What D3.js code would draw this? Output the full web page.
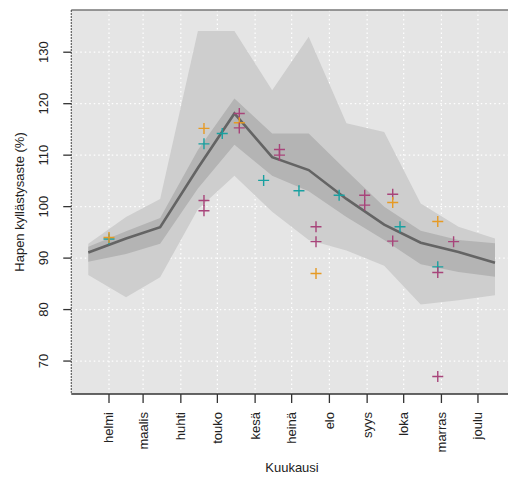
<!DOCTYPE html>
<html>
    <head>
        <script type="text/javascript" src="https://cdn.jsdelivr.net/npm/d3@7"></script>
        <style type="text/css">
            body { margin: 0; background: white; }
            text {
                font-family: "Liberation Sans", Arial, sans-serif;
                font-size: 13px;
                fill: #222;
            }
        </style>
    </head>
    <body>
        <script type="text/javascript">

            // month tick labels (1st of each month, Feb..Dec)
            var monthLabels = ["helmi","maalis","huhti","touko","kesä","heinä","elo","syys","loka","marras","joulu"];
            var yTicks = [70, 80, 90, 100, 110, 120, 130];

            // monthly statistics, placed at the 15th of each month
            var median   = [91.1, 93.8, 96.0, 107.5, 118.1, 109.6, 107.1, 101.5, 96.5, 93.0, 91.2, 89.1];
            var innerLow = [89.3, 90.8, 92.8, 103.5, 112.0, 106.0, 103.0, 98.0, 93.5, 88.8, 87.3, 86.4];
            var innerHigh= [92.2, 95.2, 97.8, 111.0, 121.0, 114.2, 114.2, 107.0, 100.0, 95.3, 93.5, 92.9];
            var outerLow = [86.7, 82.4, 86.3, 99.5, 106.0, 99.0, 93.5, 91.5, 88.5, 81.0, 81.8, 82.8];
            var outerHigh= [92.8, 98.0, 101.5, 134.1, 134.1, 122.6, 133.0, 116.2, 114.5, 100.6, 96.1, 93.8];

            // individual measurements
            var obsDates  = ["2019-02-01","2019-02-01","2019-04-20","2019-04-20","2019-04-20","2019-04-20","2019-05-05",
                             "2019-05-19","2019-05-19","2019-05-19","2019-06-08","2019-06-21","2019-06-21","2019-07-07",
                             "2019-07-21","2019-07-21","2019-07-21","2019-08-09","2019-08-30","2019-08-30","2019-09-22",
                             "2019-09-22","2019-09-22","2019-09-28","2019-10-29","2019-10-29","2019-10-29","2019-10-29",
                             "2019-11-11"];
            var obsValues = [93.7, 94.0, 115.2, 112.2, 101.2, 99.2, 114.2,
                             118.1, 116.3, 115.3, 105.1, 111.1, 110.0, 103.1,
                             96.1, 93.2, 87.0, 102.2, 102.2, 100.3, 102.4,
                             100.8, 93.3, 96.1, 97.1, 88.3, 87.2, 67.0,
                             93.2];
            var obsSite   = ["b","a","a","b","c","c","b",
                             "c","a","c","b","c","c","b",
                             "c","c","a","b","c","c","c",
                             "a","c","b","a","b","c","c",
                             "c"];

            var w = 508, h = 480;
            var pLeft = 71.25, pRight = 515.7, pTop = 10, pBottom = 394;

            var x = d3.scaleTime()
                      .domain([new Date(2019, 0, 1), new Date(2020, 0, 1)])
                      .range([pLeft, pRight]);
            var y = d3.scaleLinear()
                      .domain([63.6, 138.2])
                      .range([pBottom, pTop]);

            var siteColor = d3.scaleOrdinal()
                              .domain(["a","b","c"])
                              .range(["#e69a24", "#18a0a0", "#a8447a"]);

            var mid = d3.range(12).map(function(i){ return new Date(2019, i, 15); });
            var monthStarts = d3.range(1, 12).map(function(i){ return new Date(2019, i, 1); });

            var svg = d3.select("body")
                        .append("svg")
                        .attr("width", w)
                        .attr("height", h);

            // panel background
            svg.append("rect")
               .attr("x", pLeft).attr("y", pTop)
               .attr("width", pRight - pLeft).attr("height", pBottom - pTop)
               .attr("fill", "#e5e5e5");

            // dotted white grid
            svg.append("g").selectAll("line")
               .data(yTicks).enter().append("line")
               .attr("x1", pLeft).attr("x2", pRight)
               .attr("y1", function(d){ return y(d); })
               .attr("y2", function(d){ return y(d); })
               .attr("stroke", "white").attr("stroke-width", 1.2)
               .attr("stroke-dasharray", "1.5,3");
            svg.append("g").selectAll("line")
               .data(monthStarts).enter().append("line")
               .attr("y1", pTop).attr("y2", pBottom)
               .attr("x1", function(d){ return x(d); })
               .attr("x2", function(d){ return x(d); })
               .attr("stroke", "white").attr("stroke-width", 1.2)
               .attr("stroke-dasharray", "1.5,3");

            // bands
            function band(lo, hi) {
                return d3.area()
                         .x(function(d, i){ return x(mid[i]); })
                         .y0(function(d, i){ return y(lo[i]); })
                         .y1(function(d, i){ return y(hi[i]); })(mid);
            }
            svg.append("path").attr("d", band(outerLow, outerHigh)).attr("fill", "#cecece");
            svg.append("path").attr("d", band(innerLow, innerHigh)).attr("fill", "#b4b4b4");

            // median line
            var line = d3.line()
                         .x(function(d, i){ return x(mid[i]); })
                         .y(function(d){ return y(d); });
            svg.append("path")
               .attr("d", line(median))
               .attr("fill", "none")
               .attr("stroke", "#646464")
               .attr("stroke-width", 2.6);

            // measurements as "+"
            var s = 5.5;
            svg.append("g").selectAll("path")
               .data(obsValues).enter().append("path")
               .attr("d", function(d, i){
                   var px = x(new Date(obsDates[i] + "T00:00")), py = y(d);
                   return "M" + (px - s) + "," + py + "H" + (px + s) +
                          "M" + px + "," + (py - s) + "V" + (py + s);
               })
               .attr("stroke", function(d, i){ return siteColor(obsSite[i]); })
               .attr("stroke-width", 1.4)
               .attr("fill", "none");

            // frame
            svg.append("line").attr("x1", pLeft).attr("x2", pRight).attr("y1", pTop).attr("y2", pTop)
               .attr("stroke", "#777").attr("stroke-width", 1.6);
            svg.append("line").attr("x1", pLeft).attr("x2", pLeft).attr("y1", pTop).attr("y2", pBottom)
               .attr("stroke", "#444").attr("stroke-width", 1).attr("stroke-dasharray", "2,1");
            svg.append("line").attr("x1", pLeft).attr("x2", pRight).attr("y1", pBottom).attr("y2", pBottom)
               .attr("stroke", "#333").attr("stroke-width", 1.5);

            // y axis ticks + labels
            var yAxis = svg.append("g");
            yAxis.selectAll("line").data(yTicks).enter().append("line")
                 .attr("x1", pLeft - 8).attr("x2", pLeft)
                 .attr("y1", function(d){ return y(d); })
                 .attr("y2", function(d){ return y(d); })
                 .attr("stroke", "#333").attr("stroke-width", 1.3);
            yAxis.selectAll("text").data(yTicks).enter().append("text")
                 .attr("transform", function(d){ return "translate(48," + y(d) + ") rotate(-90)"; })
                 .attr("text-anchor", "middle")
                 .text(function(d){ return d; });

            // x axis ticks + labels
            var xAxis = svg.append("g");
            xAxis.selectAll("line").data(monthStarts).enter().append("line")
                 .attr("x1", function(d){ return x(d); })
                 .attr("x2", function(d){ return x(d); })
                 .attr("y1", pBottom).attr("y2", pBottom + 9)
                 .attr("stroke", "#333").attr("stroke-width", 1.3);
            xAxis.selectAll("text").data(monthStarts).enter().append("text")
                 .attr("transform", function(d){ return "translate(" + (x(d) + 4.5) + "," + 412 + ") rotate(-90)"; })
                 .attr("text-anchor", "end")
                 .text(function(d, i){ return monthLabels[i]; });

            // axis titles
            svg.append("text")
               .attr("transform", "translate(24," + ((pTop + pBottom) / 2) + ") rotate(-90)")
               .attr("text-anchor", "middle")
               .text("Hapen kyllästysaste (%)");
            svg.append("text")
               .attr("x", 292).attr("y", 472)
               .attr("text-anchor", "middle")
               .text("Kuukausi");

        </script>
    </body>
</html>
